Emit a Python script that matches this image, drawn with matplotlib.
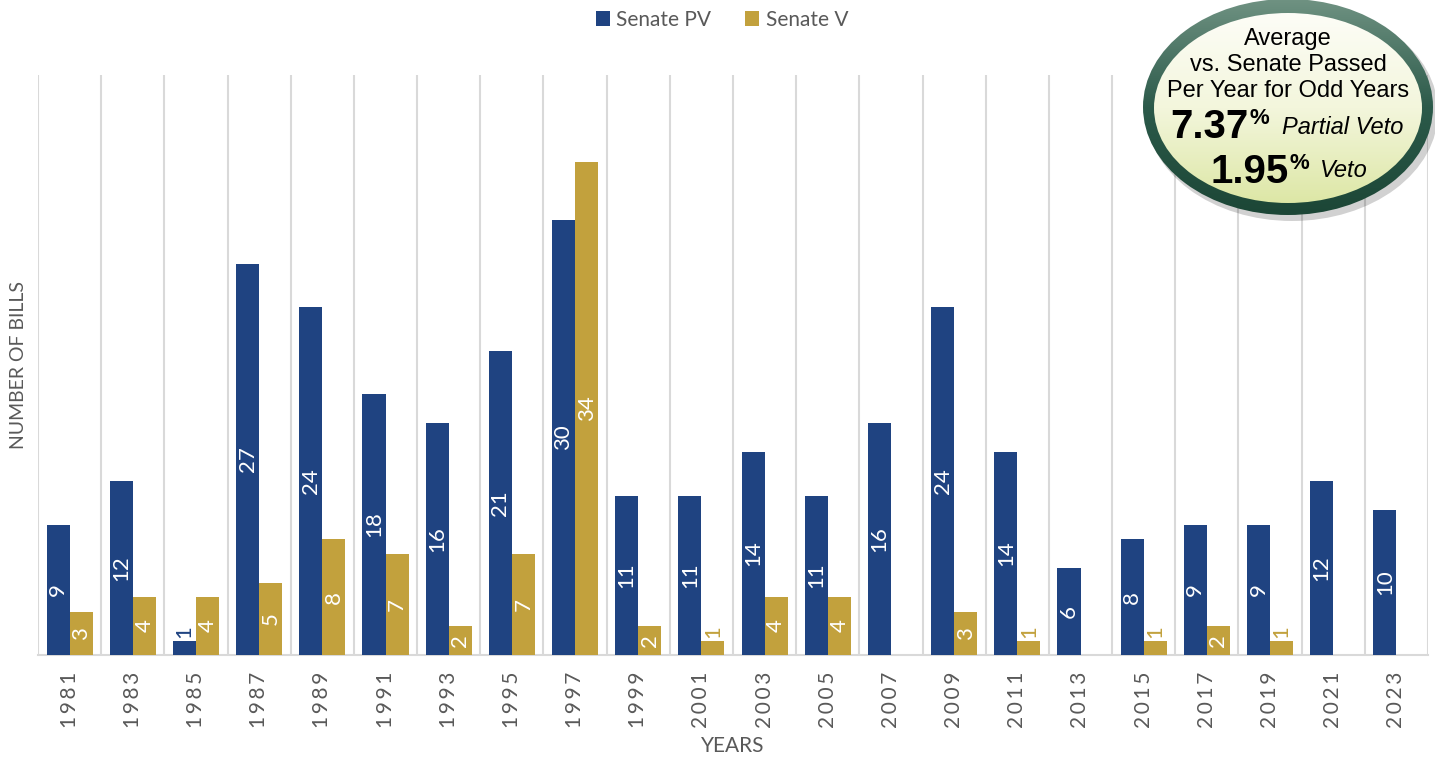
import matplotlib.pyplot as plt
import numpy as np
from matplotlib.patches import Ellipse
from matplotlib.colors import LinearSegmentedColormap

years = ['1981', '1983', '1985', '1987', '1989', '1991', '1993', '1995', '1997', '1999', '2001',
         '2003', '2005', '2007', '2009', '2011', '2013', '2015', '2017', '2019', '2021', '2023']
senate_pv = [9, 12, 1, 27, 24, 18, 16, 21, 30, 11, 11, 14, 11, 16, 24, 14, 6, 8, 9, 9, 12, 10]
senate_v = [3, 4, 4, 5, 8, 7, 2, 7, 34, 2, 1, 4, 4, 0, 3, 1, 0, 1, 2, 1, 0, 0]

BLUE = '#1f4381'
GOLD = '#c2a13d'
GRAY = '#595959'
GRID = '#d9d9d9'
FONT = ['Lato', 'DejaVu Sans']
NARROW = ['Liberation Sans Narrow', 'Liberation Sans', 'DejaVu Sans']

W, H = 1435, 757
fig = plt.figure(figsize=(W / 100, H / 100), dpi=100)
ax = fig.add_axes([38 / W, (H - 655) / H, (1428 - 38) / W, (655 - 75) / H])

x = np.arange(len(years))
w = 0.365
ax.bar(x - w / 2, senate_pv, w, color=BLUE, label='Senate PV', zorder=3)
ax.bar(x + w / 2, senate_v, w, color=GOLD, label='Senate V', zorder=3)

# data labels: inside (white) or just above when the bar is tiny
for xs, vals, col in [(x - w / 2, senate_pv, BLUE), (x + w / 2, senate_v, GOLD)]:
    for xi, v in zip(xs, vals):
        if v == 0:
            continue
        if v <= 1:
            ax.text(xi, v + 0.15, str(v), rotation=90, ha='center', va='bottom',
                    color=col, fontsize=16, family=FONT, zorder=4)
        else:
            ax.text(xi, v / 2, str(v), rotation=90, ha='center', va='center',
                    color='white', fontsize=16, family=FONT, zorder=4)

ax.set_xlim(-0.5, len(years) - 0.5)
ax.set_ylim(0, 40)
for b in np.arange(-0.5, len(years), 1):
    ax.axvline(b, color=GRID, lw=1.5, zorder=1)
for s in ['top', 'right', 'left']:
    ax.spines[s].set_visible(False)
ax.spines['bottom'].set_color(GRID)
ax.spines['bottom'].set_linewidth(1.5)
ax.set_yticks([])
ax.set_xticks(x)
ax.set_xticklabels(['\u2009'.join(y) for y in years], rotation=90, fontsize=15,
                   color=GRAY, family=FONT)
ax.tick_params(axis='x', length=0, pad=12)
ax.set_xlabel('YEARS', fontsize=15, color=GRAY, family=FONT, labelpad=6)
ax.set_ylabel('NUMBER OF BILLS', fontsize=14, color=GRAY, family=FONT, labelpad=8)

leg = fig.legend(loc='center', bbox_to_anchor=(0.503, 1 - 20 / H), ncol=2, frameon=False,
                 handlelength=0.7, handleheight=0.7, handletextpad=0.3, columnspacing=1.6,
                 prop={'family': FONT, 'size': 15})
for t in leg.get_texts():
    t.set_color(GRAY)

# badge in the top right corner
ov = fig.add_axes([0, 0, 1, 1], zorder=10)
ov.set_xlim(0, W)
ov.set_ylim(H, 0)
ov.axis('off')

cx, cy = 1288, 107
shadow = Ellipse((cx + 4, cy + 5), 292, 218, color='#000000', alpha=0.18, lw=0)
ov.add_patch(shadow)

outer = Ellipse((cx, cy), 290, 216, facecolor='none', lw=0)
ov.add_patch(outer)
ring_cmap = LinearSegmentedColormap.from_list('ring', ['#6f9282', '#2c5a4a', '#1c4636'])
g = np.linspace(0, 1, 256).reshape(-1, 1)
im = ov.imshow(g, cmap=ring_cmap, extent=(cx - 145, cx + 145, cy + 108, cy - 108),
               aspect='auto', zorder=1)
im.set_clip_path(outer)

inner = Ellipse((cx, cy + 1), 268, 190, facecolor='none', lw=0)
ov.add_patch(inner)
fill_cmap = LinearSegmentedColormap.from_list('fill', ['#fdfdf7', '#f3f6dc', '#dde7a6'])
im2 = ov.imshow(g, cmap=fill_cmap, extent=(cx - 134, cx + 134, cy + 96, cy - 94),
                aspect='auto', zorder=2)
im2.set_clip_path(inner)
ov.set_xlim(0, W)
ov.set_ylim(H, 0)

for txt, yy in [('Average', 45), ('vs. Senate Passed', 71), ('Per Year for Odd Years', 97)]:
    ov.text(cx, yy, txt, ha='center', va='baseline', fontsize=17, family=NARROW,
            color='black', zorder=5)

ov.text(1249, 138, '7.37', ha='right', va='baseline', fontsize=29, fontweight='bold',
        family=NARROW, zorder=5)
ov.text(1250, 124, '%', ha='left', va='baseline', fontsize=16, fontweight='bold',
        family=NARROW, zorder=5)
ov.text(1282, 134, 'Partial Veto', ha='left', va='baseline', fontsize=17, style='italic',
        family=NARROW, zorder=5)
ov.text(1289, 183, '1.95', ha='right', va='baseline', fontsize=29, fontweight='bold',
        family=NARROW, zorder=5)
ov.text(1290, 169, '%', ha='left', va='baseline', fontsize=16, fontweight='bold',
        family=NARROW, zorder=5)
ov.text(1320, 177, 'Veto', ha='left', va='baseline', fontsize=17, style='italic',
        family=NARROW, zorder=5)

fig.savefig('out.png', dpi=100)
